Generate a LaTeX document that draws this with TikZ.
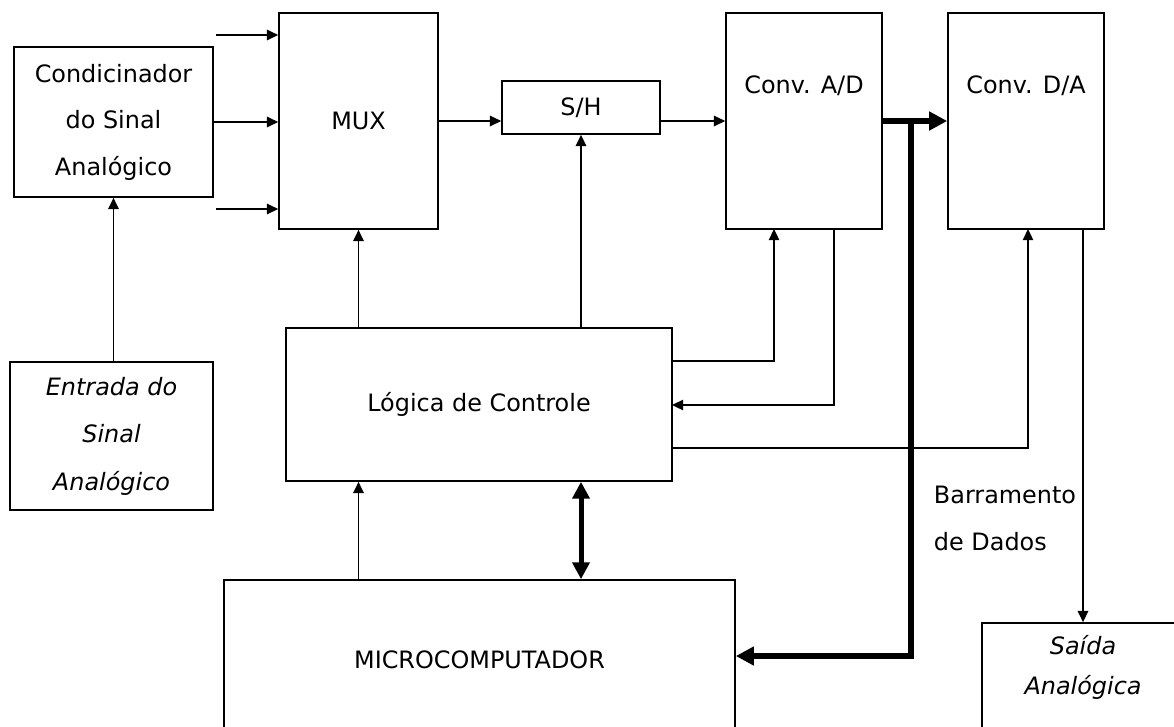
\documentclass[tikz,border=0pt]{standalone}
\usepackage{fontspec}
\setmainfont{DejaVu Sans}
\usetikzlibrary{arrows.meta}
\tikzset{
  blk/.style={draw, line width=0.04cm, inner sep=0pt, align=center},
  arr/.style={line width=0.04cm, -{Triangle[length=0.28cm,width=0.26cm]}},
  busline/.style={line width=0.16cm, -{Triangle[length=0.45cm,width=0.45cm]}},
  dblarr/.style={line width=0.125cm, {Triangle[length=0.42cm,width=0.42cm]}-{Triangle[length=0.42cm,width=0.42cm]}}
}

\begin{document}
\begin{tikzpicture}[x=0.025cm, y=-0.025cm, font=\fontsize{17}{33}\selectfont]
\clip (0,0) rectangle (1174,726);

\node[blk, minimum width=4.975cm, minimum height=3.75cm] (cond) at (113.5,122) {Condicinador\\do Sinal\\Analógico};
\node[blk, minimum width=3.975cm, minimum height=5.4cm] (mux) at (358.5,121) {MUX};
\node[blk, minimum width=3.95cm, minimum height=1.325cm] (sh) at (581,107.5) {S/H};
\node[blk, minimum width=3.9cm, minimum height=5.4cm, label={[anchor=center, yshift=-1.85cm]north:Conv. A/D}] (ad) at (804,121) {};
\node[blk, minimum width=3.9cm, minimum height=5.4cm, label={[anchor=center, yshift=-1.85cm]north:Conv. D/A}] (da) at (1026,121) {};
\node[blk, minimum width=5.075cm, minimum height=3.7cm, font=\fontsize{17}{33.8}\selectfont\itshape] (entrada) at (111.5,436) {Entrada do\\Sinal\\Analógico};
\node[blk, minimum width=9.65cm, minimum height=3.825cm] (logica) at (479,404.5) {Lógica de Controle};
\node[blk, minimum width=12.775cm, minimum height=4cm] (micro) at (479.5,660) {MICROCOMPUTADOR};
\node[blk, minimum width=5.05cm, minimum height=4.425cm, label={[anchor=center, yshift=-1.125cm, align=center, font=\fontsize{17}{28.5}\selectfont\itshape]north:Saída\\Analógica}] (saida) at (1083,711.5) {};
\node[anchor=west, align=left] (barr) at (929,518.5) {Barramento\\de Dados};

% entradas do MUX
\coordinate (in1) at (216,35);
\coordinate (in3) at (216,209);
\draw[arr] (in1) -- (in1 -| mux.west);
\draw[arr] (cond.east) -- (cond.east -| mux.west);
\draw[arr] (in3) -- (in3 -| mux.west);
\draw[arr] (cond.south |- entrada.north) -- (cond.south);

% cadeia de sinal
\draw[arr] (mux.east) -- (mux.east -| sh.west);
\draw[arr] (mux.east -| sh.east) -- (mux.east -| ad.west);
\draw[arr] (mux.south |- logica.north) -- (mux.south);
\draw[arr] (sh.south |- logica.north) -- (sh.south);

% controle
\coordinate (ctlA) at (672,361);
\coordinate (adA) at (774,229);
\coordinate (adB) at (834,229);
\coordinate (ctlB) at (672,405);
\coordinate (ctlC) at (672,448);
\coordinate (daA) at (1028,229);
\coordinate (daB) at (1083,229);
\draw[arr] (ctlA) -| (adA);
\draw[arr] (adB) |- (ctlB);
\draw[arr] (ctlC) -| (daA);
\draw[arr] (daB) -- (daB |- saida.north);

% microcomputador
\draw[arr] (mux.south |- micro.north) -- (mux.south |- logica.south);
\draw[dblarr] (sh.south |- logica.south) -- (sh.south |- micro.north);

% barramento
\coordinate (busTop) at (911,121);
\coordinate (busBot) at (911,656);
\draw[busline] (ad.east) -- (ad.east -| da.west);
\draw[busline] (busTop) -- (busBot) -- (busBot -| micro.east);
\end{tikzpicture}
\end{document}
